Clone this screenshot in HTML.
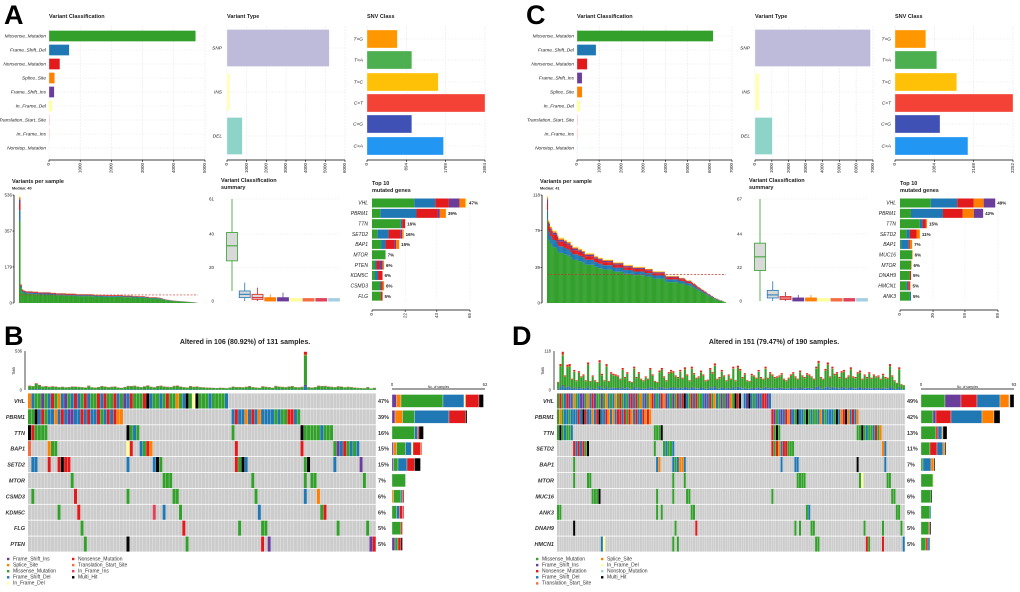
<!DOCTYPE html>
<html><head><meta charset="utf-8"><style>
html,body{margin:0;padding:0;background:#fff;}
svg{display:block;font-family:"Liberation Sans",sans-serif;}
</style></head><body>
<svg id="fig" width="1020" height="592" viewBox="0 0 1020 592">
<rect x="0" y="0" width="1020" height="592" fill="#fff"/>
</svg>
<script>
// ---------- DATA ----------
const vcCatsA = ["Missense_Mutation","Frame_Shift_Del","Nonsense_Mutation","Splice_Site","Frame_Shift_Ins","In_Frame_Del","Translation_Start_Site","In_Frame_Ins","Nonstop_Mutation"];
const vcValsA = [4700,650,350,180,170,100,25,20,5];
const vcColsA = ["#33A02C","#1F78B4","#E31A1C","#FF7F00","#6A3D9A","#FFFF99","#F8B4B0","#F8B4B0","#DDEEF8"];
const vcTicksA = [0,1000,2000,3000,4000,5000];
const vcCatsC = ["Missense_Mutation","Frame_Shift_Del","Nonsense_Mutation","Frame_Shift_Ins","Splice_Site","In_Frame_Del","Translation_Start_Site","In_Frame_Ins","Nonstop_Mutation"];
const vcValsC = [6150,860,460,230,230,140,35,30,25];
const vcColsC = ["#33A02C","#1F78B4","#E31A1C","#6A3D9A","#FF7F00","#FFFF99","#F8B4B0","#F8B4B0","#CFE3F2"];
const vcTicksC = [0,1000,2000,3000,4000,5000,6000,7000];

const vtCats = ["SNP","INS","DEL"];
const vtValsA = [5200,150,780];
const vtValsC = [6850,250,1030];
const vtTicksA = [0,1000,2000,3000,4000,5000,6000];
const vtTicksC = [0,1000,2000,3000,4000,5000,6000,7000];

const snvCats = ["T>G","T>A","T>C","C>T","C>G","C>A"];
const snvValsA = [690,1020,1620,2684,1020,1740];
const snvValsC = [850,1150,1700,3252,1240,2010];
const snvTicksA = [0,894,1789,2684];
const snvTicksC = [0,1084,2168,3252];

// box stats: [min,q1,median,q3,max]
const boxA = [[6,24,33,41,61],[0,2,4,6,11],[0,1,2,4,8],[0,0,1,2,4],[0,0,1,2,5],[0,0,0,1,2],[0,0,0,0.5,1],[0,0,0,0.5,1],[0,0,0,0.5,1]];
const boxC = [[0,20,29,38,67],[0,2,4,7,13],[0,1,2,3,6],[0,0,1,2,4],[0,0,1,2,4],[0,0,0,1,2],[0,0,0,0.5,1],[0,0,0,0.5,1],[0,0,0,0.5,1]];
const boxMaxA = 61, boxMaxC = 67;

const topGenesA = ["VHL","PBRM1","TTN","SETD2","BAP1","MTOR","PTEN","KDM5C","CSMD3","FLG"];
const topPctA = ["47%","39%","16%","16%","15%","7%","6%","6%","6%","5%"];
const topStackA = [[28,14,9,7,4,1],[5.5,24,14,1.5,4,0],[19,1,2,0,0,0],[3.5,7.5,8,1,1,0],[6,3,6,1,2,0],[9,0,0,0,0,0],[2,1,2,2,1,0],[2,2,3,0,0,0],[5,1,1,0,1,0],[6,0,1,0,0,0]];
const topColsA = ["#33A02C","#1F78B4","#E31A1C","#6A3D9A","#FF7F00","#FFFF99"];
const topTicksA = [0,22,43,65];
const topGenesC = ["VHL","PBRM1","TTN","SETD2","BAP1","MUC16","MTOR","DNAH9","HMCN1","ANK3"];
const topPctC = ["49%","42%","15%","11%","7%","6%","6%","5%","5%","5%"];
const topStackC = [[28,24,15,9,10.5],[10,29,18,10,8.5],[18,2.5,3,1,0],[6,3,6,3,0],[1,7,1,2,0],[11,0,0,0.5,0],[10,0,0,0.5,0],[9,0,1,0,0],[6,1.5,1.5,0.5,0],[9,1,0,0,0]];
const topColsC = ["#33A02C","#1F78B4","#E31A1C","#FF7F00","#6A3D9A"];
const topTicksC = [0,30,59,89];

// per-sample mutation burden (oncoplot order)
const tmbB = [60,55,95,70,50,55,45,52,48,40,45,38,42,50,47,44,40,36,60,38,35,42,55,48,40,45,50,36,30,42,58,55,60,48,40,52,65,45,38,55,60,50,45,42,58,62,48,40,36,55,45,50,40,38,35,33,30,28,32,30,26,35,48,40,42,38,45,55,40,36,30,52,45,40,32,58,48,44,40,50,55,40,38,45,536,40,35,42,60,55,58,50,45,40,52,48,38,45,40,35,30,28,25,40,22,30];
const vpsExtraA = [20,18,17,16,15,14,13,12,12,11,10,10,9,9,8,8,7,6,6,5,5,4,3,2,1];
const tmbD = [25,80,118,45,78,80,35,62,30,58,42,48,30,85,28,45,30,25,92,50,30,80,28,55,50,48,45,35,68,40,55,28,25,72,40,55,35,30,42,35,68,48,28,25,60,68,42,30,55,62,58,45,40,62,38,70,48,30,72,52,38,42,60,48,30,32,68,55,82,35,40,62,45,30,48,35,72,30,75,65,40,52,30,28,50,45,38,62,40,35,72,38,55,48,40,42,45,52,35,30,38,48,55,42,35,60,45,40,52,48,42,35,72,90,40,35,65,85,42,72,50,55,40,58,62,38,45,70,42,40,55,60,35,48,40,55,38,48,42,45,35,50,40,38,80,45,30,22,70,18,15];
const vpsExtraC = [30,28,27,26,25,24,23,22,21,20,19,18,17,16,15,14,13,13,12,11,10,10,9,8,8,7,6,6,5,5,4,4,3,3,3,2,2,1,1];
const medianA = 40, medianC = 31;
const tmbMaxA = 536, tmbMaxC = 118;
const vpsTicksA = [0,179,357,536];
const vpsTicksC = [0,39,79,118];
const burdenFrac = [0.76,0.1,0.07,0.03,0.02,0.02];
const burdenCols = ["#33A02C","#1F78B4","#E31A1C","#6A3D9A","#FF7F00","#FFFF99"];

// oncoplot: per gene, list of "startCol:codes"
const oncoGenesB = ["VHL","PBRM1","TTN","BAP1","SETD2","MTOR","CSMD3","KDM5C","FLG","PTEN"];
const oncoPctB = ["47%","39%","16%","15%","15%","7%","6%","6%","5%","5%"];
const oncoB = [
 ["0:SDMMIMDNMSDIMDNDMNDMMNDNMMNDMIDNMMMNXDMMDMNMMSMDXMFXMMMDMMMMD"],
 ["0:MMXDNMDDSDNDIIDDNDNDDNMDNDNSS","62:DNDDSDNDSDDDDMDMMNNDM"],
 ["0:XNMMMM","30:XMDM","62:M","83:XMMMMMDMMM"],
 ["0:T","6:SMM","30:FN","34:DMNS","63:N","83:N","93:MIDNMDMD"],
 ["1:DD","6:N","9:NXNN","30:D","38:DXM","63:NMXD","84:MX","93:D","101:I"],
 ["13:M","41:MMM","68:M","84:M","86:MM","102:M"],
 ["1:M","14:N","30:M","44:MM","69:M","84:D","88:S"],
 ["9:M","15:N","38:R","41:D","46:M","70:D","89:MN"],
 ["16:M","47:N","64:M","71:MM","94:M","103:M"],
 ["17:M","30:X","48:M","71:N","73:I","104:IN"]
];
const nColsB = 106, sampleMaxB = 62;
const oncoGenesD = ["VHL","PBRM1","TTN","SETD2","BAP1","MTOR","MUC16","ANK3","DNAH9","HMCN1"];
const oncoPctD = ["49%","42%","13%","11%","7%","6%","6%","5%","5%","5%"];
const oncoD = [
 ["0:MNMDNIDSMDIIMSDNIMMIMSDMDSMNMDMINDNMSDIMSNDMDNSIDMIMNDNXDMNDNMMDIDNMSDMIMIISMXNXODIXDMDIDNNID"],
 ["0:MSMDDMDDDNDXNDDSDNXDDNSDSDNNDNMNSDNDDNSNS","93:NIMDIDNSIDMXDDMXMDMMDSDMDDDMXDSNXSDNDS"],
 ["0:MXMDMMD","42:MMMX","93:NMXM","130:MMXMDMMDNMS"],
 ["7:NDNDNMX","42:M","46:MDMMD","93:NMNSDNNMMM","141:SD"],
 ["7:M","43:DS","50:DMDSSD","97:D","103:DD","130:X","142:D"],
 ["7:M","13:MM","50:M","55:M","104:MMMM","131:MF","143:MM"],
 ["15:MMMX","43:M","50:M","56:MM","93:M","145:MM"],
 ["0:MM","43:M","45:M","58:MM","108:MD","147:MM"],
 ["7:X","51:M","60:N","103:M","105:M","110:MM","133:M","141:M","149:M"],
 ["19:D","20:F","50:M","52:M","112:MM","134:N","135:M","141:N","150:D"]
];
const nColsD = 151, sampleMaxD = 93;
const codeCol = {M:"#33A02C",D:"#1F78B4",N:"#E31A1C",I:"#6A3D9A",S:"#FF7F00",F:"#FFFF99",T:"#F46D43",R:"#E0425A",X:"#000000",O:"#A6CEE3"};
const codeOrderB = ["I","S","M","D","F","N","T","R","X"];
const codeOrderD = ["M","I","N","D","S","F","O","T","R","X"];
const legendB = [["I","Frame_Shift_Ins"],["S","Splice_Site"],["M","Missense_Mutation"],["D","Frame_Shift_Del"],["F","In_Frame_Del"],["N","Nonsense_Mutation"],["T","Translation_Start_Site"],["R","In_Frame_Ins"],["X","Multi_Hit"]];
const legendD = [["M","Missense_Mutation"],["I","Frame_Shift_Ins"],["N","Nonsense_Mutation"],["D","Frame_Shift_Del"],["T","Translation_Start_Site"],["S","Splice_Site"],["F","In_Frame_Del"],["O","Nonstop_Mutation"],["X","Multi_Hit"]];

// ---------- DRAWING ----------
const NS = "http://www.w3.org/2000/svg";
const svg = document.getElementById("fig");
function el(tag, attrs, parent) {
  const e = document.createElementNS(NS, tag);
  for (const k in attrs) e.setAttribute(k, attrs[k]);
  (parent || svg).appendChild(e);
  return e;
}
function txt(x, y, s, size, extra) {
  const a = Object.assign({x: x, y: y, "font-size": size, fill: "#222"}, extra || {});
  const t = el("text", a);
  t.textContent = s;
  return t;
}
function lin(x1, y1, x2, y2, stroke, w, dash) {
  const a = {x1: x1, y1: y1, x2: x2, y2: y2, stroke: stroke, "stroke-width": w};
  if (dash) a["stroke-dasharray"] = dash;
  return el("line", a);
}
function rotTick(x, y, s) {
  const t = txt(x, y, s, 4.5, {transform: "rotate(-90 " + x + " " + y + ")", "text-anchor": "end", "dominant-baseline": "middle"});
  
  
}
function hbar(x0, w, max, ticks, cats, vals, cols, centers, bh, axisY, title, labelX) {
  const sx = v => x0 + v / max * w;
  const t = txt(x0, 18, title, 5.5, {"font-weight": "bold"});
  
  
  ticks.forEach(v => {
    const g = lin(sx(v), 26, sx(v), axisY, "#e6e6e6", 0.5, "2,1");
    
    
  });
  centers.forEach(cy => {
    const g = lin(x0, cy, x0 + w, cy, "#ececec", 0.5, "2,1");
    
    
  });
  cats.forEach((c, i) => {
    const r = el("rect", {x: x0, y: centers[i] - bh / 2, width: Math.max(sx(vals[i]) - x0, 0.3), height: bh, fill: cols[i], stroke: "#fff", "stroke-width": 0.3});
    
    
    const l = txt(labelX, centers[i] + 1.5, c, 4.8, {"text-anchor": "end", "font-style": "italic"});
    
    
  });
  const ax = lin(x0, axisY, x0 + w, axisY, "#000", 0.8);
  
  
  ticks.forEach(v => {
    const tk = lin(sx(v), axisY, sx(v), axisY + 2, "#000", 0.6);
    
    
    rotTick(sx(v), axisY + 3, String(v));
  });
}
function summaryPanel(ox, vcCats, vcVals, vcCols, vcTicks, vcW, vtVals, vtTicks, snvVals, snvTicks) {
  const vcCenters = vcCats.map((c, i) => 36 + i * 14);
  hbar(ox + 49, vcW, vcTicks[vcTicks.length - 1], vcTicks, vcCats, vcVals, vcCols, vcCenters, 11, 160, "Variant Classification", ox + 46);
  hbar(ox + 227, 118, vtTicks[vtTicks.length - 1], vtTicks, vtCats, vtVals, ["#BEBADA", "#FFFFB3", "#8DD3C7"], [48, 92, 136], 37, 160, "Variant Type", ox + 222);
  hbar(ox + 367, 118, snvTicks[snvTicks.length - 1], snvTicks, snvCats, snvVals, ["#FF9800", "#4CAF50", "#FFC107", "#F44336", "#3F51B5", "#2196F3"], [39, 60, 82, 103, 124, 146], 18, 160, "SNV Class", ox + 363);
}
function vpsPanel(ox, vals, maxV, ticks, median, medLabel) {
  const x0 = ox + 19, x1 = ox + 198, yb = 303, yt = 195;
  const sy = v => yb - v / maxV * (yb - yt);
  const t1 = txt(ox + 12, 183, "Variants per sample", 5.5, {"font-weight": "bold"});
  
  
  const t2 = txt(ox + 12, 189.5, medLabel, 3.8, {"font-weight": "bold"});
  
  
  const ax = lin(ox + 14, yt, ox + 14, yb, "#000", 0.8);
  
  
  ticks.forEach(v => {
    const l = txt(ox + 12, sy(v) + 1.5, String(v), 4.5, {"text-anchor": "end"});
    
    
    const tk = lin(ox + 12.5, sy(v), ox + 14, sy(v), "#000", 0.6);
    
    
  });
  const sorted = vals.slice().sort((a, b) => b - a);
  const bw = (x1 - x0) / sorted.length;
  sorted.forEach((v, i) => {
    let base = 0;
    burdenFrac.forEach((f, k) => {
      const seg = v * f;
      const r = el("rect", {x: x0 + i * bw, y: sy(base + seg), width: bw + 0.15, height: Math.max(sy(base) - sy(base + seg), 0), fill: burdenCols[k]});
      
      
      base += seg;
    });
  });
  const m = lin(x0, sy(median), x1, sy(median), "#C0392B", 0.7, "2,1.5");
  
  
}
function boxPanel(ox, stats, maxV, tickLabels) {
  const x0 = ox + 226, x1 = ox + 340, yb = 301, yt = 199;
  const sy = v => yb - v / maxV * (yb - yt);
  const t1 = txt(ox + 221, 182, "Variant Classification", 5.5, {"font-weight": "bold"});
  
  
  const t2 = txt(ox + 221, 189, "summary", 5.5, {"font-weight": "bold"});
  
  
  tickLabels.forEach(v => {
    const g = lin(x0, sy(v), x1, sy(v), "#ececec", 0.5, "2,1");
    
    
    const l = txt(ox + 214, sy(v) + 1.5, String(v), 4.5, {"text-anchor": "end"});
    
    
  });
  const colsA = ["#33A02C","#1F78B4","#E31A1C","#FF7F00","#6A3D9A","#FFFF99","#F46D43","#E0425A","#A6CEE3"];
  const colsC = ["#33A02C","#1F78B4","#E31A1C","#6A3D9A","#FF7F00","#FFFF99","#F46D43","#E0425A","#A6CEE3"];
  stats.forEach((s, i) => {
    const cx = x0 + 6 + i * 12.75;
    const c = ox === 0 ? colsA[i] : colsC[i];
    const w = lin(cx, sy(s[0]), cx, sy(s[4]), c, 0.8);
    
    
    const raw = sy(s[1]) - sy(s[3]);
    const hgt = Math.max(raw, 2.5);
    const r = el("rect", {x: cx - 5.5, y: sy(s[3]) - (hgt - raw), width: 11, height: hgt, fill: i < 3 ? "#d9d9d9" : c, stroke: c, "stroke-width": 0.8});
    
    
    const md = lin(cx - 5.5, sy(s[2]), cx + 5.5, sy(s[2]), c, 1);
    
    
  });
}
function topPanel(ox, genes, pcts, stacks, cols, ticks) {
  const x0 = ox + 372, w = 98, maxV = ticks[ticks.length - 1];
  const sx = v => v / maxV * w;
  const t1 = txt(ox + 372, 185, "Top 10", 5.5, {"font-weight": "bold"});
  
  
  const t2 = txt(ox + 372, 192, "mutated genes", 5.5, {"font-weight": "bold"});
  
  
  ticks.forEach(v => {
    const g = lin(x0 + sx(v), 198, x0 + sx(v), 301, "#ececec", 0.5, "2,1");
    
    
  });
  genes.forEach((g, i) => {
    const cy = 203 + i * 10.35;
    let acc = 0;
    stacks[i].forEach((v, k) => {
      if (v <= 0) return;
      const r = el("rect", {x: x0 + sx(acc), y: cy - 4.5, width: sx(v), height: 9, fill: cols[k]});
      
      
      acc += v;
    });
    const l = txt(ox + 368, cy + 1.7, g, 5, {"text-anchor": "end", "font-style": "italic"});
    
    
    const p = txt(x0 + sx(acc) + 2, cy + 1.7, pcts[i], 4.5, {"font-weight": "bold"});
    
    
  });
  const ax = lin(x0, 310, x0 + w, 310, "#000", 0.8);
  
  
  ticks.forEach(v => {
    const tk = lin(x0 + sx(v), 310, x0 + sx(v), 312, "#000", 0.6);
    
    
    rotTick(x0 + sx(v), 313, String(v));
  });
}
function parseGene(spec, n) {
  const arr = new Array(n).fill(null);
  spec.forEach(s => {
    const [st, codes] = s.split(":");
    for (let j = 0; j < codes.length; j++) if (+st + j < n) arr[+st + j] = codes[j];
  });
  return arr;
}
function oncoPanel(ox, title, genes, pcts, data, nCols, tmb, tmbMax, sampleMax, order, legend) {
  const x0 = ox + 28, W = 348, y0 = 393, rh = 15.9, cw = W / nCols;
  const t = txt(ox + 245, 344, title, 7, {"font-weight": "bold", "text-anchor": "middle"});
  
  
  const ty0 = 390, tyt = 351;
  const sy = v => ty0 - v / tmbMax * (ty0 - tyt);
  const ax = lin(ox + 25, tyt, ox + 25, ty0, "#000", 0.7);
  
  
  [0, tmbMax].forEach(v => {
    const l = txt(ox + 22, sy(v) + 1.5, String(v), 4.2, {"text-anchor": "end"});
    
    
  });
  const tl = txt(ox + 15, 371, "TMB", 3.8, {transform: "rotate(-90 " + (ox + 15) + " 371)", "text-anchor": "middle"});
  
  
  const stackFrac = [burdenFrac[1], burdenFrac[3], burdenFrac[0], burdenFrac[4], burdenFrac[2]];
  const stackCols = [burdenCols[1], burdenCols[3], burdenCols[0], burdenCols[4], burdenCols[2]];
  tmb.slice(0, nCols).forEach((v, i) => {
    let base = 0;
    stackFrac.forEach((f, k) => {
      const seg = v * f;
      const r = el("rect", {x: x0 + i * cw + 0.1, y: sy(base + seg), width: cw - 0.2, height: Math.max(sy(base) - sy(base + seg), 0), fill: stackCols[k]});
      
      
      base += seg;
    });
  });
  const rx0 = ox + 392, rw = 93;
  genes.forEach((g, gi) => {
    const row = parseGene(data[gi], nCols);
    const y = y0 + gi * rh;
    for (let c = 0; c < nCols; c++) {
      const code = row[c];
      const r = el("rect", {x: x0 + c * cw, y: y + 0.4, width: cw - 0.25, height: rh - 0.8, fill: code ? codeCol[code] : "#CCCCCC"});
      
      
    }
    const l = txt(ox + 25, y + rh / 2 + 2, g, 5.5, {"text-anchor": "end", "font-style": "italic", "font-weight": "bold", fill: "#333"});
    
    
    const p = txt(ox + 378, y + rh / 2 + 2, pcts[gi], 5.5, {"font-weight": "bold", fill: "#333"});
    
    
    let acc = 0;
    order.forEach(code => {
      const n = row.filter(v => v === code).length;
      if (!n) return;
      const r = el("rect", {x: rx0 + acc / sampleMax * rw, y: y + 1.5, width: n / sampleMax * rw, height: rh - 3, fill: codeCol[code], stroke: "#fff", "stroke-width": 0.3});
      
      
      acc += n;
    });
  });
  const rax = lin(rx0, 389, rx0 + rw, 389, "#000", 0.8);
  
  
  [0, sampleMax].forEach(v => {
    const l = txt(rx0 + v / sampleMax * rw, 386, String(v), 4.2, {"text-anchor": "middle"});
    
    
  });
  const st = txt(rx0 + rw / 2, 388, "No. of samples", 3.2, {"text-anchor": "middle"});
  
  
  legend.forEach((e, i) => {
    const col = i < 5 ? 0 : 1, rowi = i < 5 ? i : i - 5;
    const lx = ox + 7 + col * 65, ly = 560 + rowi * 6.1;
    const sq = el("rect", {x: lx, y: ly - 2.2, width: 2.4, height: 2.4, fill: codeCol[e[0]]});
    
    
    const lt = txt(lx + 6, ly + 0.3, e[1], 5, {fill: "#333"});
    
    
  });
}
function panelLetter(x, y, s) {
  const t = txt(x, y, s, 27, {"font-weight": "bold", fill: "#000"});
  
  
}

panelLetter(4, 24, "A");
summaryPanel(0, vcCatsA, vcValsA, vcColsA, vcTicksA, 156, vtValsA, vtTicksA, snvValsA, snvTicksA);
vpsPanel(0, tmbB.concat(vpsExtraA), tmbMaxA, vpsTicksA, medianA, "Median: 40");
boxPanel(0, boxA, boxMaxA, [0, 20, 40, 61]);
topPanel(0, topGenesA, topPctA, topStackA, topColsA, topTicksA);

panelLetter(526, 24, "C");
summaryPanel(528, vcCatsC, vcValsC, vcColsC, vcTicksC, 155, vtValsC, vtTicksC, snvValsC, snvTicksC);
vpsPanel(528, tmbD.concat(vpsExtraC), tmbMaxC, vpsTicksC, medianC, "Median: 41");
boxPanel(528, boxC, boxMaxC, [0, 22, 44, 67]);
topPanel(528, topGenesC, topPctC, topStackC, topColsC, topTicksC);

panelLetter(4, 345, "B");
oncoPanel(0, "Altered in 106 (80.92%) of 131 samples.", oncoGenesB, oncoPctB, oncoB, nColsB, tmbB, tmbMaxA, sampleMaxB, codeOrderB, legendB);
panelLetter(512, 345, "D");
oncoPanel(529, "Altered in 151 (79.47%) of 190 samples.", oncoGenesD, oncoPctD, oncoD, nColsD, tmbD, tmbMaxC, sampleMaxD, codeOrderD, legendD);
</script>
</body></html>
